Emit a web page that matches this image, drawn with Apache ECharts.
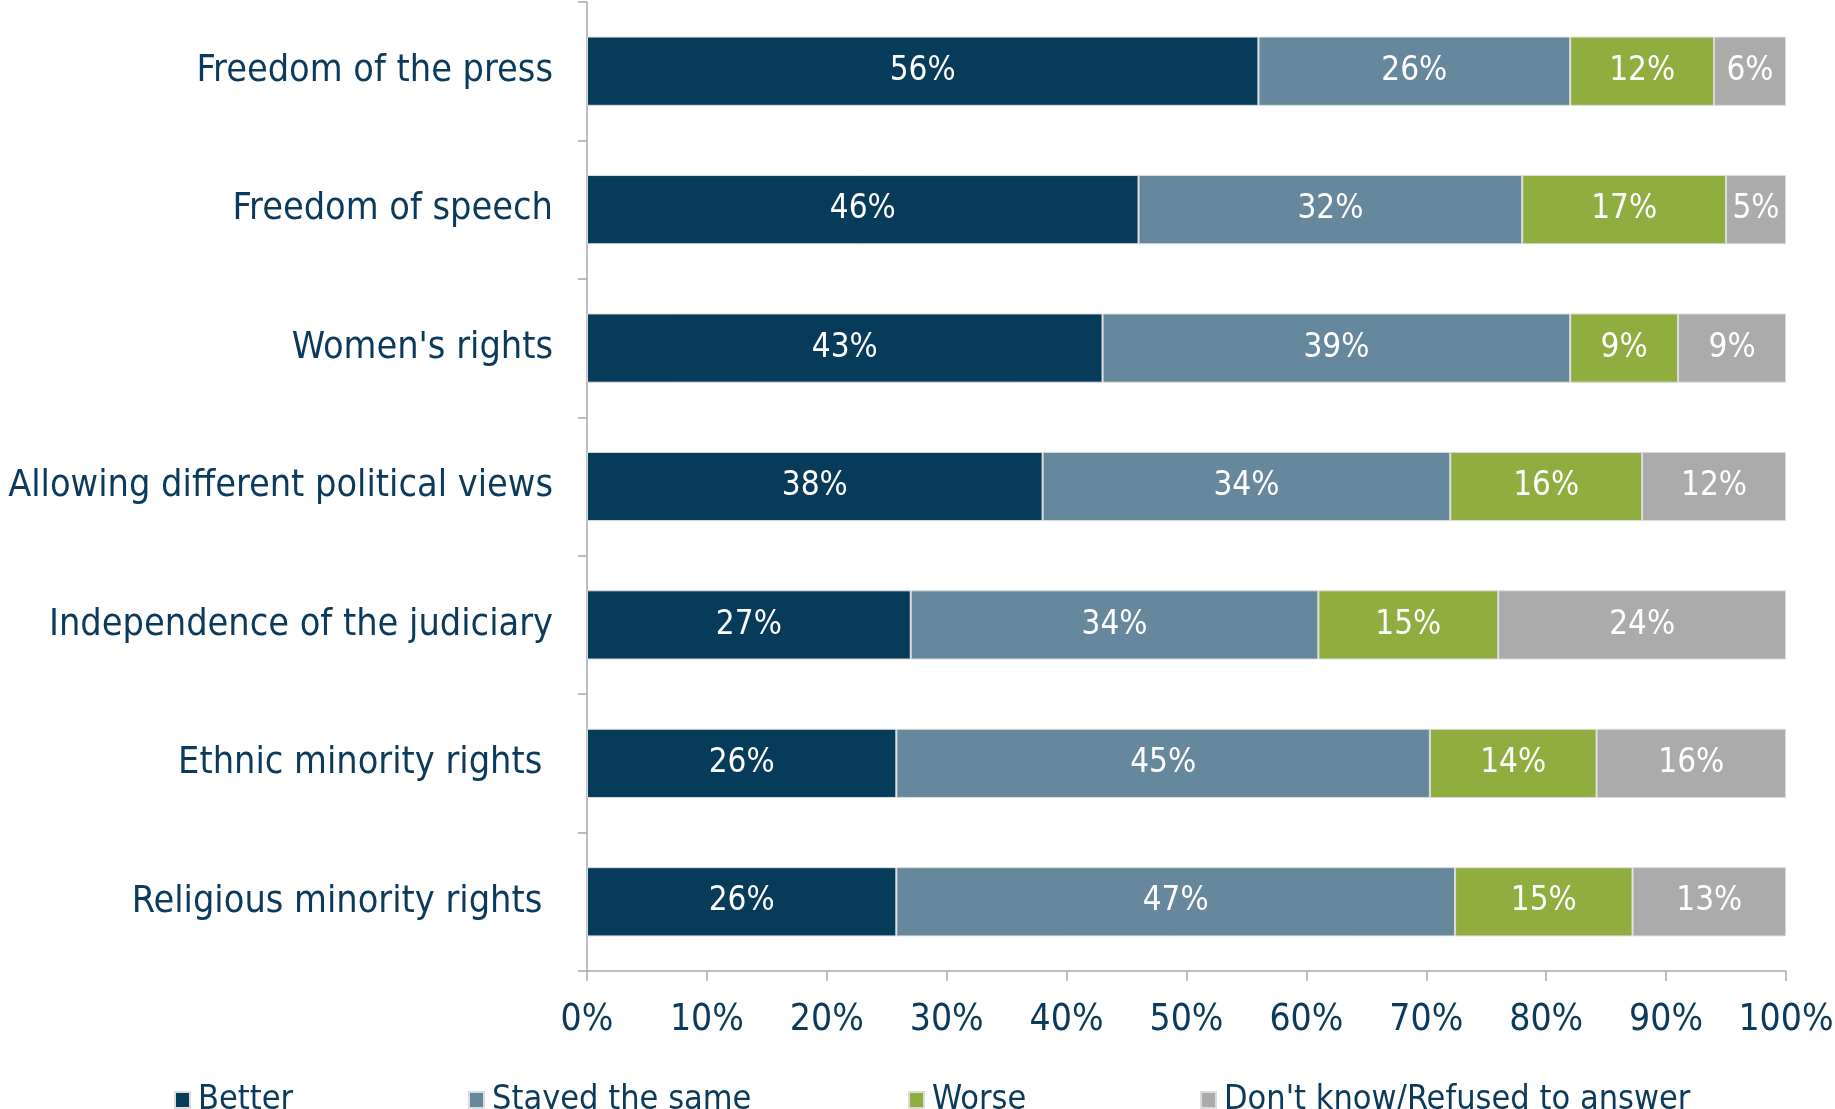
<!DOCTYPE html>
<html>
<head>
<meta charset="utf-8">
<script src="https://cdn.jsdelivr.net/npm/echarts@6/dist/echarts.min.js"></script>
<style>
html,body{margin:0;padding:0;background:#fff;}
#chart{width:1835px;height:1109px;}
</style>
</head>
<body>
<div id="chart"></div>
<script>
const categories = [
  "Freedom of the press",
  "Freedom of speech",
  "Women's rights",
  "Allowing different political views",
  "Independence of the judiciary",
  "Ethnic minority rights ",
  "Religious minority rights "
];
const seriesNames = ["Better", "Stayed the same", "Worse", "Don't know/Refused to answer"];
const better = [56, 46, 43, 38, 27, 25.8, 25.8];
const same   = [26, 32, 39, 34, 34, 44.5, 46.6];
const worse  = [12, 17, 9, 16, 15, 13.9, 14.8];
const dontKnow = [6, 5, 9, 12, 24, 15.8, 12.8];
const xTicks = [0, 10, 20, 30, 40, 50, 60, 70, 80, 90, 100];

const colors = ["#073B5A", "#66889C", "#8FAE3F", "#ABABAB"];
const FONT = "'DejaVu Sans Condensed', 'DejaVu Sans', sans-serif";
const TEXT = "#0B3A5C";
const AXIS = "#A3AAB2";
const legendLeft = [169, 463, 903, 1195];

const chart = echarts.init(document.getElementById('chart'));
const values = [better, same, worse, dontKnow];
chart.setOption({
  animation: false,
  color: colors,
  textStyle: { fontFamily: FONT },
  grid: { left: 587, right: 49, top: 2, bottom: 138, containLabel: false, outerBoundsMode: 'none' },
  legend: seriesNames.map((n, i) => ({
    left: legendLeft[i], top: 1078,
    itemWidth: 15, itemHeight: 16,
    icon: 'rect',
    textStyle: { color: TEXT, fontSize: 34, fontFamily: FONT, padding: [0, 0, 0, 3] },
    data: [n]
  })),
  xAxis: {
    type: 'value', min: xTicks[0], max: xTicks[xTicks.length - 1], interval: 10,
    axisLine: { show: true, lineStyle: { color: AXIS, width: 1.5 } },
    axisTick: { show: true, length: 10, lineStyle: { color: AXIS, width: 1.5 } },
    splitLine: { show: false },
    axisLabel: { color: TEXT, fontSize: 37, fontFamily: FONT, margin: 31, formatter: v => v + '%' }
  },
  yAxis: {
    type: 'category', inverse: true, data: categories,
    axisLine: { show: true, lineStyle: { color: AXIS, width: 1.5 } },
    axisTick: { show: true, length: 9, lineStyle: { color: AXIS, width: 1.5 } },
    axisLabel: { color: TEXT, fontSize: 37.5, fontFamily: FONT, margin: 34 }
  },
  series: seriesNames.map((n, i) => ({
    name: n, type: 'bar', stack: 'total', barWidth: '50%',
    data: values[i],
    itemStyle: { color: colors[i], borderColor: '#DCDCDC', borderWidth: 1 },
    label: {
      show: true, position: 'inside', color: '#FFFFFF', fontSize: 33, fontFamily: FONT,
      formatter: p => Math.round(p.value) + '%'
    }
  }))
});
</script>
</body>
</html>
